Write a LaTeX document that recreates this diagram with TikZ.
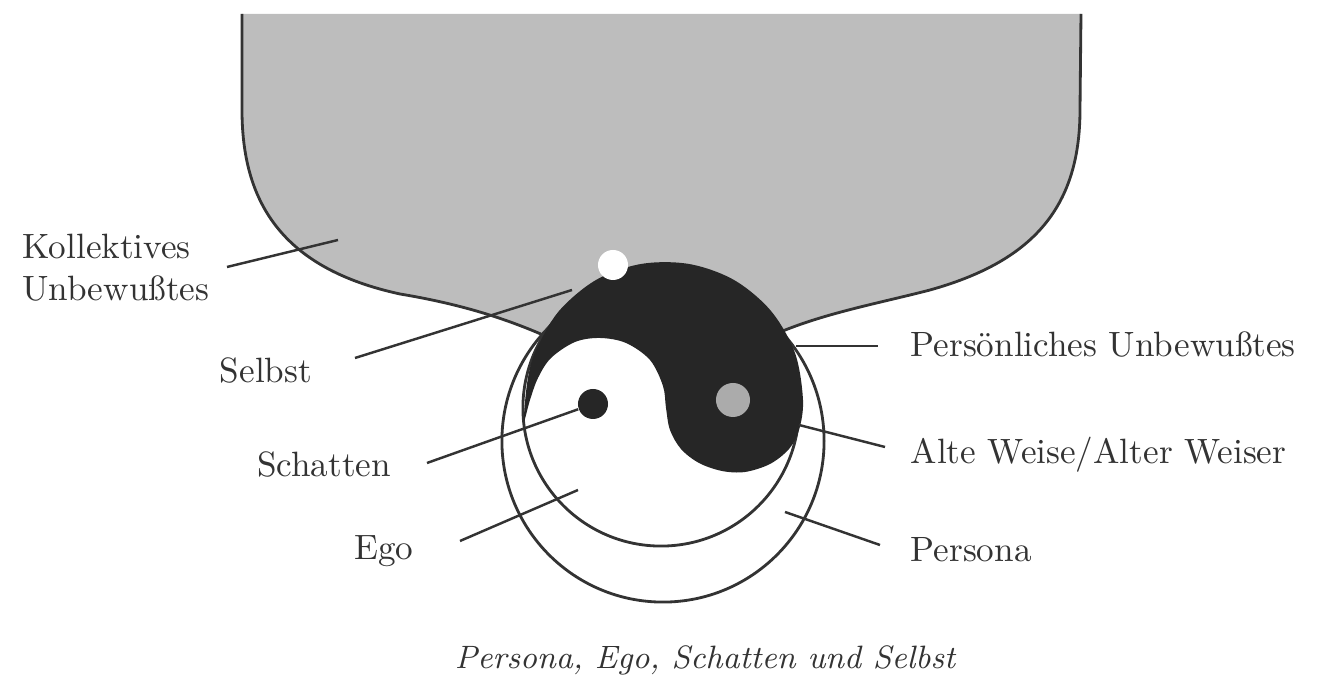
\documentclass[tikz,border=0pt]{standalone}
\usepackage{tikz}
\usetikzlibrary{positioning}
\begin{document}
\begin{tikzpicture}[x=0.01cm, y=-0.01cm,
    lbl/.style={text=black!80, font=\normalsize, inner sep=0pt},
    leader/.style={draw=black!80, line width=0.7pt},
    ring/.style={draw=black!80, line width=0.8pt},
    dot/.style={circle, inner sep=0pt, minimum size=#1}
]
\useasboundingbox (0,0) rectangle (1329,698);

% Kollektives Unbewusstes (graue Flaeche)
\fill[black!26] (242,14) -- (242,110) .. controls (242,200) and (280,268) .. (400,294)
  .. controls (460,304) and (505,318) .. (550,338) -- (660,320) -- (778,333)
  .. controls (825,313) and (880,303) .. (930,290) .. controls (1030,262) and (1080,210) .. (1080,110)
  -- (1081,14) -- cycle;
\draw[ring] (242,14) -- (242,110) .. controls (242,200) and (280,268) .. (400,294)
  .. controls (460,304) and (505,318) .. (550,338);
\draw[ring] (1081,14) -- (1080,110) .. controls (1080,210) and (1030,262) .. (930,290)
  .. controls (880,303) and (825,313) .. (778,333);

% Persona und Ego
\draw[ring] (663,441) circle[radius=1.61cm];
\draw[ring] (661,408) circle[radius=1.38cm];

% Selbst (schwarze Form)
\fill[black!85] plot[smooth cycle, tension=0.55] coordinates {(524,421) (526,392) (530,368) (537,348) (559,311) (596,280) (641,264) (689,264) (734,280) (771,311) (795,353) (803,400) (799,430) (789,449) (770,464) (745,472) (722,471) (699,463) (681,449) (670,430) (666,408) (663,386) (650,360) (626,343) (600,338) (575,342) (551,358) (538,378) (530,400)};

% Punkte
\node[dot=0.3cm, fill=white] (selbstdot) at (613,265) {};
\node[dot=0.34cm, fill=black!33] (weisedot) at (733,400) {};
\node[dot=0.3cm, fill=black!85] (schattendot) at (593,404) {};

% Beschriftungen
\node[lbl, align=left, anchor=east] (kollektiv) at (210,268) {Kollektives\\Unbewußtes};
\node[lbl] (selbst) at (266,371) {Selbst};
\node[lbl] (schatten) at (324,465) {Schatten};
\node[lbl] (ego) at (384,551) {Ego};
\node[lbl, anchor=west] (persoenlich) at (910,345) {Persönliches Unbewußtes};
\node[lbl, anchor=west] (weise) at (910,455) {Alte Weise/Alter Weiser};
\node[lbl, anchor=west] (persona) at (910,550) {Persona};
\node[lbl, font=\fontsize{9.2}{11}\selectfont\itshape] (titel) at (705,660) {Persona, Ego, Schatten und Selbst};

% Linien
\coordinate (kollektiv-a) at (227,267);
\coordinate (kollektiv-b) at (338,240);
\coordinate (selbst-a) at (355,358);
\coordinate (selbst-b) at (572,290);
\coordinate (schatten-a) at (427,463);
\coordinate (ego-a) at (460,541);
\coordinate (ego-b) at (578,490);
\coordinate (persoenlich-a) at (796,346);
\coordinate (persoenlich-b) at (878,346);
\coordinate (weise-a) at (799,425);
\coordinate (weise-b) at (885,447);
\coordinate (persona-a) at (785,512);
\coordinate (persona-b) at (880,545);

\draw[leader] (kollektiv-a) -- (kollektiv-b);
\draw[leader] (selbst-a) -- (selbst-b);
\draw[leader] (schatten-a) -- (schattendot);
\draw[leader] (ego-a) -- (ego-b);
\draw[leader] (persoenlich-a) -- (persoenlich-b);
\draw[leader] (weise-a) -- (weise-b);
\draw[leader] (persona-a) -- (persona-b);

\end{tikzpicture}
\end{document}
